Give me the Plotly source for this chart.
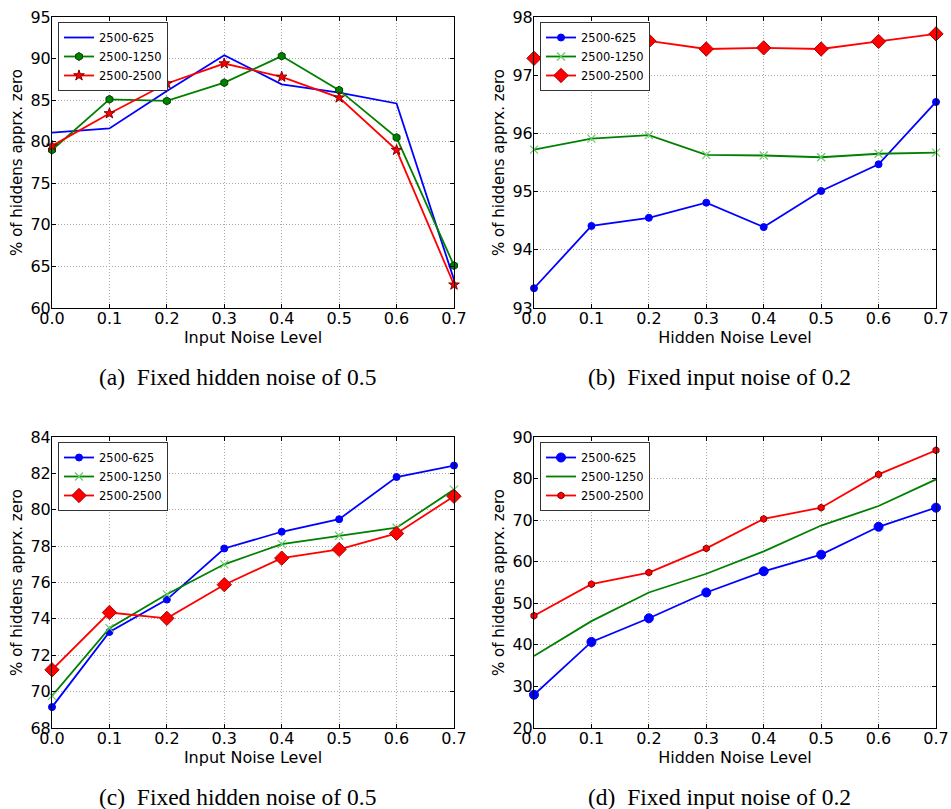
import plotly.graph_objects as go

noise = [0.0, 0.1, 0.2, 0.3, 0.4, 0.5, 0.6, 0.7]
series_names = ["2500-625", "2500-1250", "2500-2500"]

# (a) Fixed hidden noise of 0.5
a_625 = [81.1, 81.6, 86.1, 90.4, 86.9, 85.9, 84.6, 63.4]
a_1250 = [79.0, 85.1, 84.9, 87.1, 90.3, 86.2, 80.5, 65.1]
a_2500 = [79.5, 83.4, 87.0, 89.4, 87.8, 85.3, 79.0, 62.8]

# (b) Fixed input noise of 0.2
b_625 = [93.34, 94.41, 94.55, 94.81, 94.39, 95.01, 95.47, 96.54]
b_1250 = [95.72, 95.91, 95.97, 95.63, 95.62, 95.59, 95.65, 95.67]
b_2500 = [97.29, 97.55, 97.59, 97.45, 97.47, 97.45, 97.58, 97.71]

# (c) Fixed hidden noise of 0.5
c_625 = [69.15, 73.28, 75.06, 77.87, 78.79, 79.48, 81.80, 82.43]
c_1250 = [69.77, 73.49, 75.35, 77.0, 78.11, 78.57, 79.01, 81.11]
c_2500 = [71.2, 74.35, 74.03, 75.88, 77.34, 77.82, 78.70, 80.74]

# (d) Fixed input noise of 0.2
d_625 = [28.0, 40.7, 46.4, 52.6, 57.7, 61.7, 68.4, 73.0]
d_1250 = [37.3, 45.7, 52.6, 57.1, 62.5, 68.7, 73.4, 79.8]
d_2500 = [47.0, 54.6, 57.4, 63.2, 70.3, 73.0, 81.0, 86.8]

x_titles = ["Input Noise Level", "Hidden Noise Level", "Input Noise Level", "Hidden Noise Level"]
y_title = "% of hiddens apprx. zero"
captions = ["(a)  Fixed hidden noise of 0.5", "(b)  Fixed input noise of 0.2",
            "(c)  Fixed hidden noise of 0.5", "(d)  Fixed input noise of 0.2"]
y_ranges = [[60, 95], [93, 98], [68, 84], [20, 90]]
y_dticks = [5, 1, 2, 10]

BLUE, GREEN, RED = "#0000ff", "#008000", "#ff0000"
W, H = 951, 809

def px_x(p):
    return p / W

def px_y(p):
    return 1 - p / H

# panel geometry in pixels: (left, right, top, bottom, caption centre x)
panels = [(52, 454, 17, 308, 237), (534, 936, 17, 308, 719),
          (52, 454, 437, 728, 237), (534, 936, 437, 728, 719)]

fig = go.Figure()

styles = [
    [None, ("hexagon", 8, GREEN, "#004000"), ("star", 8, RED, "#800000")],
    [("circle", 7, BLUE, BLUE), ("x-thin-open", 8, "#66cc66", "#66cc66"), ("diamond", 11, RED, "#aa0000")],
    [("circle", 7, BLUE, BLUE), ("x-thin-open", 8, "#66cc66", "#66cc66"), ("diamond", 11, RED, "#aa0000")],
    [("circle", 9, BLUE, BLUE), None, ("hexagon", 7, RED, "#800000")],
]
data = [
    [a_625, a_1250, a_2500],
    [b_625, b_1250, b_2500],
    [c_625, c_1250, c_2500],
    [d_625, d_1250, d_2500],
]
colors = [BLUE, GREEN, RED]

for i in range(4):
    ax = "" if i == 0 else str(i + 1)
    leg = "legend" if i == 0 else f"legend{i + 1}"
    for j in range(3):
        st = styles[i][j]
        kw = dict(x=noise, y=data[i][j], name=series_names[j],
                  line=dict(color=colors[j], width=1.8),
                  xaxis="x" + ax, yaxis="y" + ax, legend=leg, cliponaxis=False)
        if st is None:
            kw["mode"] = "lines"
        else:
            sym, size, fc, lc = st
            kw["mode"] = "lines+markers"
            kw["marker"] = dict(symbol=sym, size=size, color=fc,
                                line=dict(color=lc, width=1 if "open" not in sym else 1.2))
        fig.add_trace(go.Scatter(**kw))

layout = dict(
    width=W, height=H,
    margin=dict(l=0, r=0, t=0, b=0),
    paper_bgcolor="white", plot_bgcolor="white",
    font=dict(family="DejaVu Sans", color="black"),
    annotations=[],
)

for i, (l, r, t, b, cx) in enumerate(panels):
    ax = "" if i == 0 else str(i + 1)
    xa = dict(domain=[px_x(l), px_x(r)], range=[0, 0.7], dtick=0.1, tick0=0, tickformat=".1f",
              showgrid=True, gridcolor="#a8a8a8", griddash="1px,2px", gridwidth=1,
              showline=True, linecolor="black", linewidth=1, mirror="allticks",
              ticks="inside", ticklen=4, tickcolor="black",
              ticklabelstandoff=-4,
              tickfont=dict(size=16, family="DejaVu Sans"),
              title=dict(text=x_titles[i], font=dict(size=16, family="DejaVu Sans"), standoff=3),
              zeroline=False, anchor="y" + ax, automargin=False)
    ya = dict(domain=[px_y(b), px_y(t)], range=y_ranges[i], dtick=y_dticks[i],
              showgrid=True, gridcolor="#a8a8a8", griddash="1px,2px", gridwidth=1,
              showline=True, linecolor="black", linewidth=1, mirror="allticks",
              ticks="inside", ticklen=4, tickcolor="black",
              ticklabelstandoff=-3,
              tickfont=dict(size=16, family="DejaVu Sans"),
              title=dict(text=y_title, font=dict(size=15, family="DejaVu Sans"), standoff=4),
              zeroline=False, anchor="x" + ax, automargin=False)
    layout["xaxis" + ax] = xa
    layout["yaxis" + ax] = ya
    leg = "legend" if i == 0 else f"legend{i + 1}"
    layout[leg] = dict(x=px_x(l + 6), y=px_y(t + 5), xanchor="left", yanchor="top",
                       bgcolor="white", bordercolor="#333333", borderwidth=1,
                       font=dict(size=11.5, family="DejaVu Sans"),
                       tracegroupgap=0, itemwidth=30)
    layout["annotations"].append(dict(
        text=captions[i], x=px_x(cx), y=px_y(b + 69), xref="paper", yref="paper",
        xanchor="center", yanchor="middle", showarrow=False,
        font=dict(size=23.5, family="Liberation Serif", color="black")))

fig.update_layout(**layout)
fig.write_html("out.html", config={"displayModeBar": False},
               post_script="document.body.style.margin='0';")
